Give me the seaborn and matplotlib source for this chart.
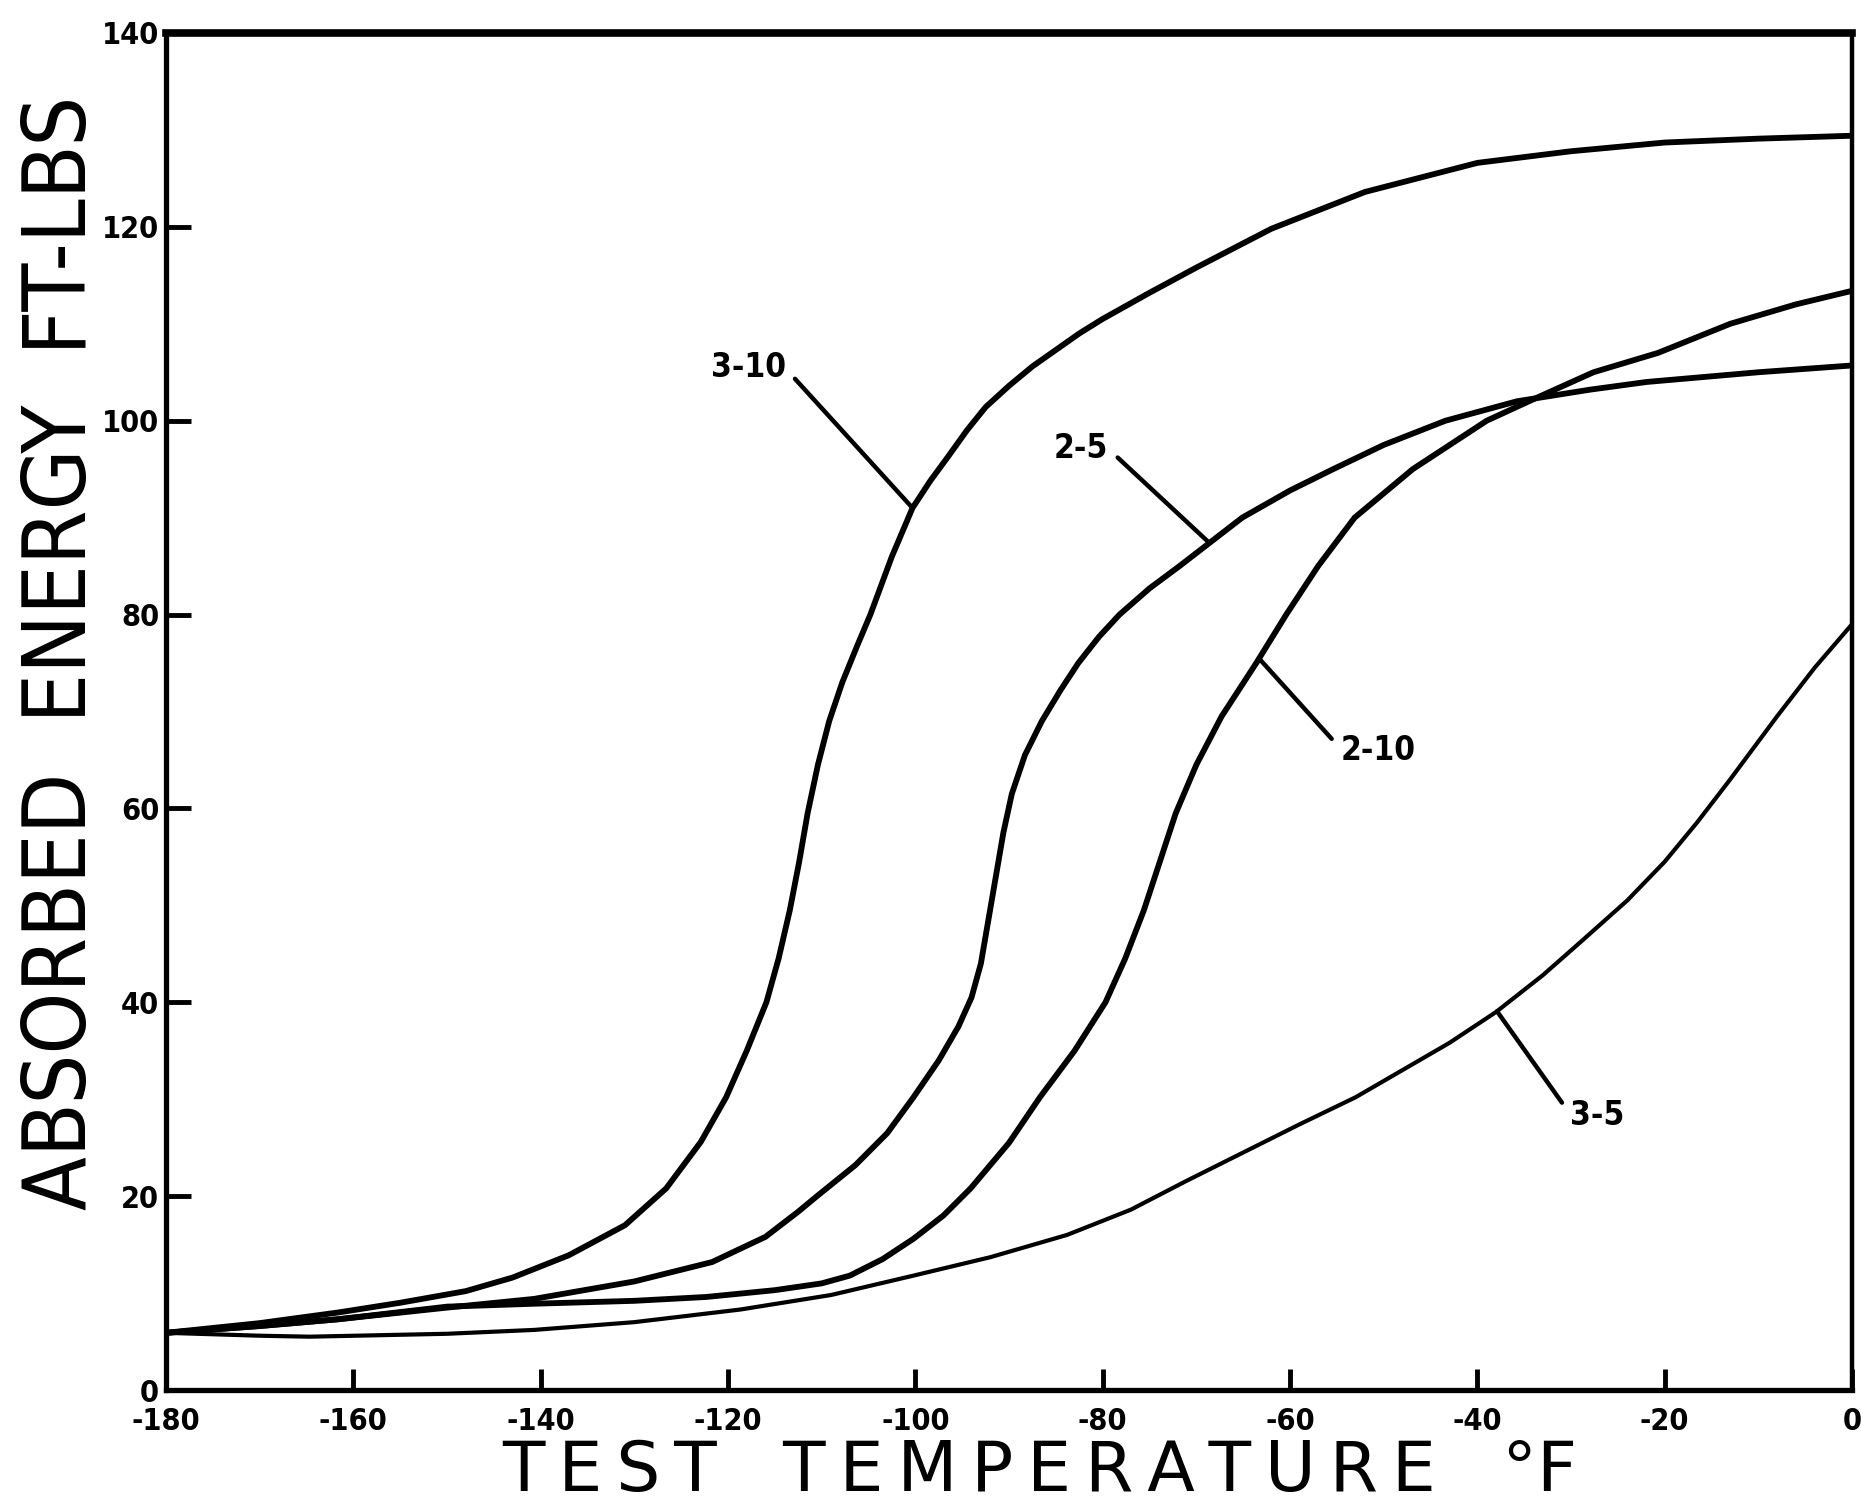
import numpy as np
import pandas as pd
import matplotlib
matplotlib.use("Agg")
import matplotlib.pyplot as plt
import seaborn as sns

# Charpy impact transition curves, absorbed energy (ft-lbs) vs test temperature (deg F)
temp_3_10 = [-180, -170, -161.6, -155, -148, -143, -137, -131, -126.6, -122.9, -120.2, -118,
             -115.9, -114.6, -113.4, -112.4, -111.5, -110.4, -109.2, -107.8, -106.2, -104.8,
             -102.5, -100.3, -98.4, -96.5, -94.5, -92.5, -90, -87.5, -85, -82.5, -80, -75, -70,
             -62, -52, -40, -30, -20, -10, 0]
energy_3_10 = [5.9, 6.9, 8.0, 9.0, 10.2, 11.6, 13.9, 17.0, 20.8, 25.6, 30.2, 35,
               40, 44.5, 49.5, 54.5, 59.5, 64.5, 69, 73, 76.8, 80,
               86, 91, 93.8, 96.3, 99, 101.4, 103.6, 105.6, 107.3, 109, 110.5, 113.2, 115.8,
               119.8, 123.6, 126.6, 127.8, 128.7, 129.1, 129.4]

temp_2_5 = [-180, -170, -161.6, -150, -140.7, -130, -121.7, -116, -112.5, -110.5, -106.4, -103,
            -100.2, -97.5, -95.4, -94, -93, -92.2, -91.4, -90.6, -89.7, -88.3, -86.5, -84.5,
            -82.6, -80.4, -78.2, -75, -71.8, -65.1, -60, -55.4, -50, -43.4, -35.8, -28, -21.9,
            -10, 0]
energy_2_5 = [5.9, 6.6, 7.3, 8.5, 9.4, 11.2, 13.2, 15.8, 18.4, 20, 23.2, 26.5,
              30.2, 34, 37.5, 40.5, 44, 48.5, 53, 57.5, 61.5, 65.5, 69, 72.2,
              75, 77.7, 80, 82.7, 85, 90, 92.8, 95, 97.5, 100, 102, 103.2, 104, 105, 105.7]

temp_2_10 = [-180, -170, -161.6, -150, -140.7, -130, -122.3, -115, -110, -107, -103.5, -100.2,
             -97, -94.1, -90, -86.7, -83, -79.7, -77.6, -75.6, -73.9, -72.2, -70, -67.3,
             -63.6, -60.4, -57, -53.1, -46.9, -39, -34.5, -27.6, -20.7, -13, -6, 0]
energy_2_10 = [5.9, 6.6, 7.3, 8.6, 8.9, 9.2, 9.6, 10.3, 11.0, 11.8, 13.5, 15.6,
               18.0, 20.8, 25.5, 30.2, 35, 40, 44.5, 49.5, 54.5, 59.5, 64.5, 69.5,
               75, 80, 85, 90, 95, 100, 102, 105, 107, 110, 112, 113.4]

temp_3_5 = [-180, -170, -164.7, -150, -140.7, -130, -118.7, -109, -100.2, -92, -83.8, -77,
            -71, -65, -59, -53, -48, -43, -38, -33, -29, -24, -20, -16.5, -13, -8, -4, 0]
energy_3_5 = [5.9, 5.6, 5.5, 5.8, 6.2, 7.0, 8.3, 9.8, 11.8, 13.7, 16.0, 18.6,
              21.6, 24.5, 27.4, 30.2, 33, 35.8, 39.0, 42.8, 46.2, 50.5, 54.5, 58.6, 63, 69.5,
              74.5, 79]

curve_names = ["3-10", "2-5", "2-10", "3-5"]
x_ticks = list(range(-180, 1, 20))
x_tick_labels = ["-180", "-160", "-140", "-120", "-100", "-80", "-60", "-40", "-20", "0"]
y_ticks = list(range(0, 141, 20))
y_tick_labels = ["0", "20", "40", "60", "80", "100", "120", "140"]

curves = {
    "3-10": (temp_3_10, energy_3_10),
    "2-5": (temp_2_5, energy_2_5),
    "2-10": (temp_2_10, energy_2_10),
    "3-5": (temp_3_5, energy_3_5),
}
line_widths = {"3-10": 4.2, "2-5": 4.2, "2-10": 4.2, "3-5": 3.0}

# label placement: (label x, label y, temperature where the leader meets the curve, leader side)
label_layout = {
    "3-10": (-117.8, 105.5, -100.3, (1.0, 0.45)),
    "2-5": (-82.3, 97.1, -68.6, (1.0, 0.5)),
    "2-10": (-50.6, 66.0, -63.3, (0.0, 0.55)),
    "3-5": (-27.2, 28.3, -37.9, (0.0, 0.55)),
}

sns.set_theme(style="white")
plt.rcParams["font.family"] = ["DejaVu Sans"]
plt.rcParams["text.color"] = "black"

fig = plt.figure(figsize=(18.61, 15.02), dpi=100)
fig.patch.set_facecolor("white")
ax = fig.add_axes([166 / 1861, 112 / 1502, 1686 / 1861, 1357 / 1502])
ax.set_facecolor("white")

for name in curve_names:
    xs, ys = curves[name]
    df = pd.DataFrame({"temperature": xs, "energy": ys})
    sns.lineplot(data=df, x="temperature", y="energy", ax=ax, color="black",
                 linewidth=line_widths[name], estimator=None, sort=False,
                 solid_capstyle="round", solid_joinstyle="round")

for name in curve_names:
    xs, ys = curves[name]
    lx, ly, tx, rel = label_layout[name]
    ty = float(np.interp(tx, xs, ys))
    ax.annotate(name, xy=(tx, ty), xytext=(lx, ly), textcoords="data",
                ha="center", va="center", fontsize=24, fontweight="bold",
                fontstretch="condensed", color="black",
                arrowprops=dict(arrowstyle="-", lw=3.2, color="black",
                                relpos=rel, shrinkA=6, shrinkB=0))

ax.set_xlim(-180, 0)
ax.set_ylim(0, 140)

ax.set_xticks(x_ticks)
ax.set_xticklabels(x_tick_labels, fontsize=22, fontweight="bold", fontstretch="condensed")
ax.set_yticks(y_ticks)
ax.set_yticklabels(y_tick_labels, fontsize=22, fontweight="bold", fontstretch="condensed")
ax.tick_params(axis="x", direction="in", length=15, width=3.5, color="black", pad=12)
ax.tick_params(axis="y", direction="in", length=18, width=3.5, color="black", pad=5)
ax.tick_params(axis="both", labelcolor="black", bottom=True, left=True)

for side, lw in {"top": 5.5, "left": 3.8, "bottom": 3.8, "right": 3.2}.items():
    ax.spines[side].set_visible(True)
    ax.spines[side].set_color("black")
    ax.spines[side].set_linewidth(lw)
ax.grid(False)

thin = "\u2009"
x_title = "   ".join([thin.join("TEST"), thin.join("TEMPERATURE"), "°F"])
ax.set_xlabel(x_title, fontsize=50, color="black")
ax.xaxis.label.set_va("center")
ax.xaxis.set_label_coords(0.518, -0.060)

ax.set_ylabel("ABSORBED  ENERGY  FT-LBS", fontsize=63, fontstretch="condensed", color="black")
ax.yaxis.label.set_va("center")
ax.yaxis.label.set_ha("center")
ax.yaxis.set_label_coords(-0.0617, 0.543)

fig.savefig("out.png", dpi=100, facecolor="white")
